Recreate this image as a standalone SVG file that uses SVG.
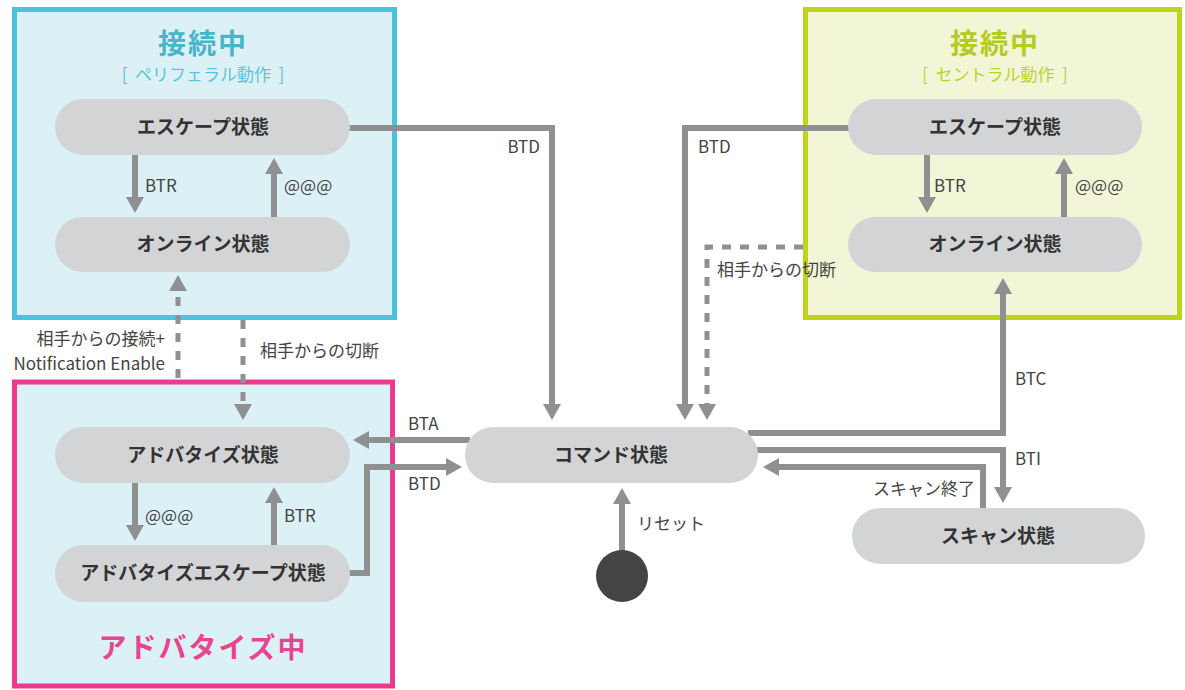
<svg xmlns="http://www.w3.org/2000/svg" width="1185" height="690" viewBox="0 0 1185 690">
<style>
.lbl{font-family:"Noto Sans CJK JP","Noto Sans",sans-serif;font-size:17px;fill:#444}
.nt{font-family:"Noto Sans CJK JP","Noto Sans",sans-serif;font-size:19px;font-weight:bold;fill:#333;text-anchor:middle}
.node{fill:#d2d4d6}
.c{fill:none;stroke:#8f9092;stroke-width:6}
.d{fill:none;stroke:#8f9092;stroke-width:5;stroke-dasharray:9 9}
.ttl{font-family:"Noto Sans CJK JP","Noto Sans",sans-serif;font-size:28px;font-weight:bold;text-anchor:middle;letter-spacing:2px}
.sub{font-family:"Noto Sans CJK JP","Noto Sans",sans-serif;font-size:17px;text-anchor:middle}
</style>
<defs>
<marker id="ah" viewBox="0 0 16 18" markerWidth="16" markerHeight="18" refX="2" refY="9" orient="auto" markerUnits="userSpaceOnUse">
<path d="M0,0 L16,9 L0,18 z" fill="#8f9092"/>
</marker>
</defs>
<rect width="1185" height="690" fill="#ffffff"/>
<g id="peripheral-group">
<rect x="14.5" y="9.5" width="380" height="308" fill="#dcf1f5" stroke="#4cc3dc" stroke-width="5"/>
<text class="ttl" x="203" y="54" fill="#49b5cb">接続中</text>
<text class="sub" x="203" y="81" fill="#5bc4d8" xml:space="preserve">[  ペリフェラル動作  ]</text>
</g>
<g id="advertise-group">
<rect x="14.5" y="382" width="378" height="304" fill="#dcf1f5" stroke="#ec3a8f" stroke-width="5"/>
<text class="ttl" x="203" y="658" fill="#e8448f">アドバタイズ中</text>
</g>
<g id="central-group">
<rect x="805.5" y="9.5" width="374" height="308" fill="#f2f6d6" stroke="#bed31a" stroke-width="5"/>
<text class="ttl" x="995" y="54" fill="#b4cc22">接続中</text>
<text class="sub" x="995" y="81" fill="#bcd42a" xml:space="preserve">[  セントラル動作  ]</text>
</g>
<g id="connectors">
<path class="c" d="M135,155 V199" marker-end="url(#ah)"/>
<path class="c" d="M274,217 V172" marker-end="url(#ah)"/>
<path class="c" d="M927,155 V199" marker-end="url(#ah)"/>
<path class="c" d="M1064,217 V172" marker-end="url(#ah)"/>
<path class="c" d="M135,483 V527" marker-end="url(#ah)"/>
<path class="c" d="M274,545 V501" marker-end="url(#ah)"/>
<path class="d" d="M178,378 V289" marker-end="url(#ah)"/>
<path class="d" d="M243,320 V406" marker-end="url(#ah)"/>
<path class="c" d="M345,128 H552 V406" marker-end="url(#ah)"/>
<path class="c" d="M855,128 H685 V406" marker-end="url(#ah)"/>
<path class="d" d="M803,247 H707 V406" marker-end="url(#ah)"/>
<path class="c" d="M470,440 H367" marker-end="url(#ah)"/>
<path class="c" d="M345,573 H367 V467 H448" marker-end="url(#ah)"/>
<path class="c" d="M622,552 V502" marker-end="url(#ah)"/>
<path class="c" d="M748,433 H1003 V292" marker-end="url(#ah)"/>
<path class="c" d="M755,450 H1003 V489" marker-end="url(#ah)"/>
<path class="c" d="M983,510 V467 H777" marker-end="url(#ah)"/>
</g>
<g id="labels">
<text class="lbl" x="540" y="153" text-anchor="end">BTD</text>
<text class="lbl" x="698" y="153">BTD</text>
<text class="lbl" x="145" y="192">BTR</text>
<text class="lbl" x="284" y="192">@@@</text>
<text class="lbl" x="934" y="192">BTR</text>
<text class="lbl" x="1075" y="192">@@@</text>
<text class="lbl" x="145" y="522">@@@</text>
<text class="lbl" x="284" y="522">BTR</text>
<text class="lbl" x="165" y="345" text-anchor="end">相手からの接続+</text>
<text class="lbl" x="165" y="370" text-anchor="end">Notification Enable</text>
<text class="lbl" x="260" y="357">相手からの切断</text>
<text class="lbl" x="717" y="276">相手からの切断</text>
<text class="lbl" x="408" y="430">BTA</text>
<text class="lbl" x="408" y="490">BTD</text>
<text class="lbl" x="637" y="530">リセット</text>
<text class="lbl" x="1015" y="385">BTC</text>
<text class="lbl" x="1015" y="465">BTI</text>
<text class="lbl" x="975" y="495" text-anchor="end">スキャン終了</text>
</g>
<g id="node-p-escape"><rect class="node" x="55" y="99" width="295" height="56" rx="28"/><text class="nt" x="203" y="134">エスケープ状態</text></g>
<g id="node-p-online"><rect class="node" x="55" y="217" width="295" height="55" rx="27.5"/><text class="nt" x="203" y="251">オンライン状態</text></g>
<g id="node-advertise"><rect class="node" x="55" y="427" width="295" height="56" rx="28"/><text class="nt" x="203" y="462">アドバタイズ状態</text></g>
<g id="node-adv-escape"><rect class="node" x="55" y="545" width="295" height="57" rx="28.5"/><text class="nt" x="203" y="580">アドバタイズエスケープ状態</text></g>
<g id="node-c-escape"><rect class="node" x="848" y="99" width="294" height="56" rx="28"/><text class="nt" x="995" y="134">エスケープ状態</text></g>
<g id="node-c-online"><rect class="node" x="848" y="217" width="294" height="55" rx="27.5"/><text class="nt" x="995" y="251">オンライン状態</text></g>
<g id="node-command"><rect class="node" x="465" y="427" width="293" height="56" rx="28"/><text class="nt" x="611" y="462">コマンド状態</text></g>
<g id="node-scan"><rect class="node" x="852" y="508" width="293" height="56" rx="28"/><text class="nt" x="998" y="543">スキャン状態</text></g>
<g id="node-start"><circle cx="622" cy="576" r="26" fill="#444"/></g>
</svg>
